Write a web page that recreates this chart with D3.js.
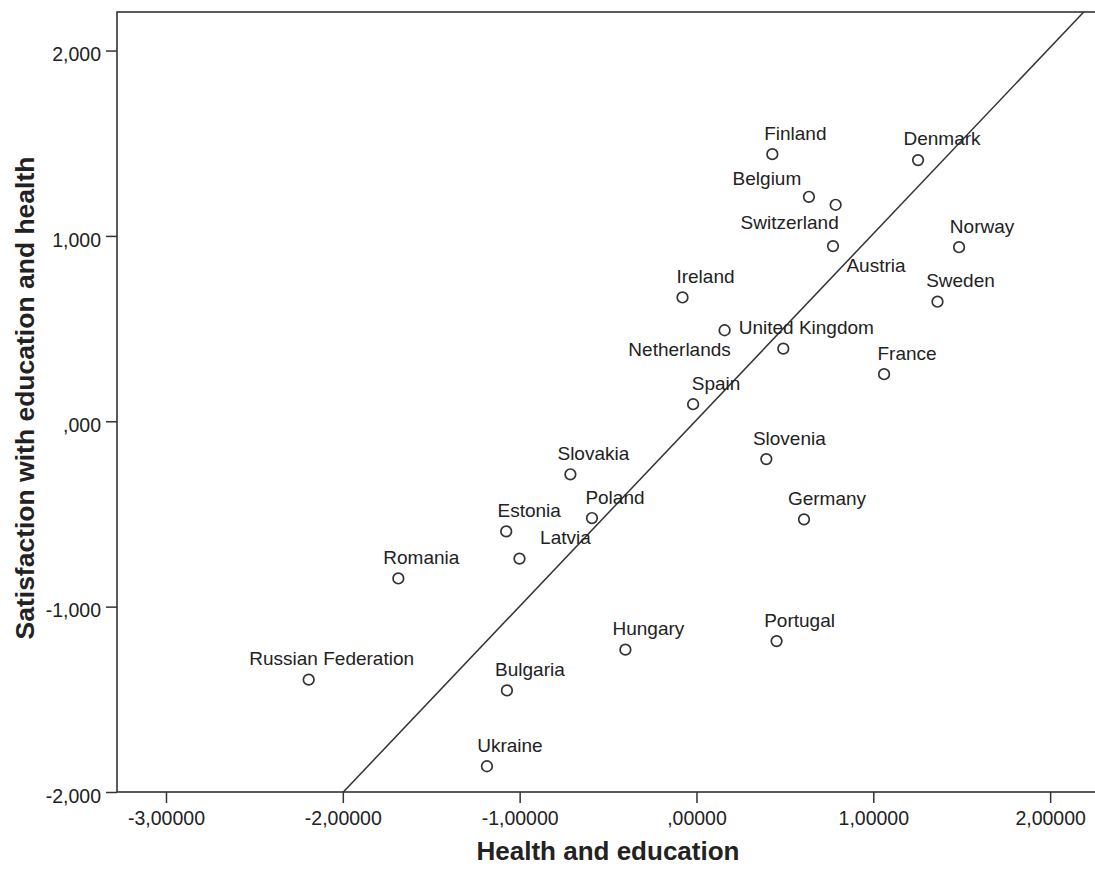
<!DOCTYPE html>
<html>
<head>
<meta charset="utf-8">
<script src="https://cdn.jsdelivr.net/npm/d3@7"></script>
<style>
  html, body { margin: 0; padding: 0; background: #fff; }
  svg { display: block; font-family: "Liberation Sans", Arial, sans-serif; }
</style>
</head>
<body>
<svg id="chart" width="1095" height="872"></svg>
<script>
// Country scores: composite health & education index vs. satisfaction
const countries = [
  "Finland", "Denmark", "Belgium", "Switzerland", "Austria", "Norway",
  "Ireland", "Sweden", "Netherlands", "United Kingdom", "France", "Spain",
  "Slovenia", "Slovakia", "Poland", "Germany", "Estonia", "Latvia",
  "Romania", "Portugal", "Hungary", "Russian Federation", "Bulgaria", "Ukraine"
];
const healthEducation = [
  0.429, 1.253, 0.636, 0.787, 0.772, 1.485,
  -0.079, 1.363, 0.159, 0.491, 1.061, -0.019,
  0.395, -0.713, -0.591, 0.608, -1.076, -1.001,
  -1.686, 0.453, -0.402, -2.193, -1.072, -1.185
];
const satisfaction = [
  1.441, 1.409, 1.211, 1.168, 0.945, 0.939,
  0.668, 0.645, 0.491, 0.392, 0.254, 0.092,
  -0.204, -0.286, -0.522, -0.529, -0.594, -0.741,
  -0.848, -1.186, -1.232, -1.394, -1.452, -1.861
];
const xTicks = [-3, -2, -1, 0, 1, 2];
const yTicks = [-2, -1, 0, 1, 2];
// Reference line: intercept, slope
const refLine = [0.007, 1.005];

// Label placement around each marker (pixels: horizontal centre offset, baseline offset)
const defaultLabelOffset = [23, -14.5];
const labelOffsets = {
  "Belgium": [-42, -12],
  "Switzerland": [-46, 24.5],
  "Austria": [43, 25.5],
  "Netherlands": [-45, 26],
  "Latvia": [46, -15],
  "Denmark": [24, -15]
};

const svg = d3.select("#chart");
const plotLeft = 117, plotTop = 12, plotRight = 1097, plotBottom = 792;

const x = d3.scaleLinear().domain([-3.277, 2.265]).range([plotLeft, plotRight]);
const y = d3.scaleLinear().domain([-2, 2.208]).range([plotBottom, plotTop]);

// Comma decimal separator, plain hyphen minus, leading zero dropped
function commaFormat(digits) {
  const f = d3.format("." + digits + "f");
  return v => {
    let s = f(v).replace("\u2212", "-").replace(".", ",");
    if (s.startsWith("0,")) s = s.slice(1);
    return s;
  };
}

const ink = "#333";

// Clip region for the plotted content
svg.append("defs").append("clipPath").attr("id", "plot-clip")
  .append("rect").attr("x", plotLeft).attr("y", plotTop)
  .attr("width", plotRight - plotLeft).attr("height", plotBottom - plotTop);

// Axes
const yAxis = svg.append("g")
  .attr("transform", `translate(${plotLeft},0)`)
  .call(d3.axisLeft(y).tickValues(yTicks).tickFormat(commaFormat(3))
    .tickSize(11).tickSizeOuter(0).tickPadding(5));
const xAxis = svg.append("g")
  .attr("transform", `translate(0,${plotBottom})`)
  .call(d3.axisBottom(x).tickValues(xTicks).tickFormat(commaFormat(5))
    .tickSize(11).tickSizeOuter(0).tickPadding(8));

[xAxis, yAxis].forEach(g => {
  g.select(".domain").remove();
  g.selectAll(".tick line").attr("stroke", ink).attr("stroke-width", 1.5);
  g.selectAll(".tick text")
    .attr("fill", "#222")
    .style("font-size", "19.5px")
    .style("font-family", "'Liberation Sans', Arial, sans-serif");
});
yAxis.selectAll(".tick text").attr("dy", "0.52em");

// Frame
svg.append("rect")
  .attr("x", plotLeft).attr("y", plotTop)
  .attr("width", plotRight - plotLeft).attr("height", plotBottom - plotTop)
  .attr("fill", "none").attr("stroke", ink).attr("stroke-width", 1.6);

const plot = svg.append("g").attr("clip-path", "url(#plot-clip)");

// Reference line
const xd = x.domain();
plot.append("line")
  .attr("x1", x(xd[0])).attr("y1", y(refLine[0] + refLine[1] * xd[0]))
  .attr("x2", x(xd[1])).attr("y2", y(refLine[0] + refLine[1] * xd[1]))
  .attr("stroke", ink).attr("stroke-width", 1.5);

const points = countries.map((c, i) => ({ name: c, hx: healthEducation[i], sy: satisfaction[i] }));

// Markers
plot.selectAll("circle.pt").data(points).enter().append("circle")
  .attr("class", "pt")
  .attr("cx", d => x(d.hx)).attr("cy", d => y(d.sy))
  .attr("r", 5.3)
  .attr("fill", "#fff").attr("stroke", ink).attr("stroke-width", 1.7);

// Country labels
plot.selectAll("text.lbl").data(points).enter().append("text")
  .attr("class", "lbl")
  .attr("x", d => x(d.hx) + (labelOffsets[d.name] || defaultLabelOffset)[0])
  .attr("y", d => y(d.sy) + (labelOffsets[d.name] || defaultLabelOffset)[1])
  .attr("text-anchor", "middle")
  .attr("fill", "#222")
  .style("font-size", "19px")
  .text(d => d.name);

// Axis titles
svg.append("text")
  .attr("x", 608).attr("y", 860)
  .attr("text-anchor", "middle")
  .attr("fill", "#222")
  .style("font-size", "26px").style("font-weight", "bold")
  .text("Health and education");

svg.append("text")
  .attr("transform", "translate(34,398) rotate(-90)")
  .attr("text-anchor", "middle")
  .attr("fill", "#222")
  .style("font-size", "26.5px").style("font-weight", "bold")
  .text("Satisfaction with education and health");
</script>
</body>
</html>
